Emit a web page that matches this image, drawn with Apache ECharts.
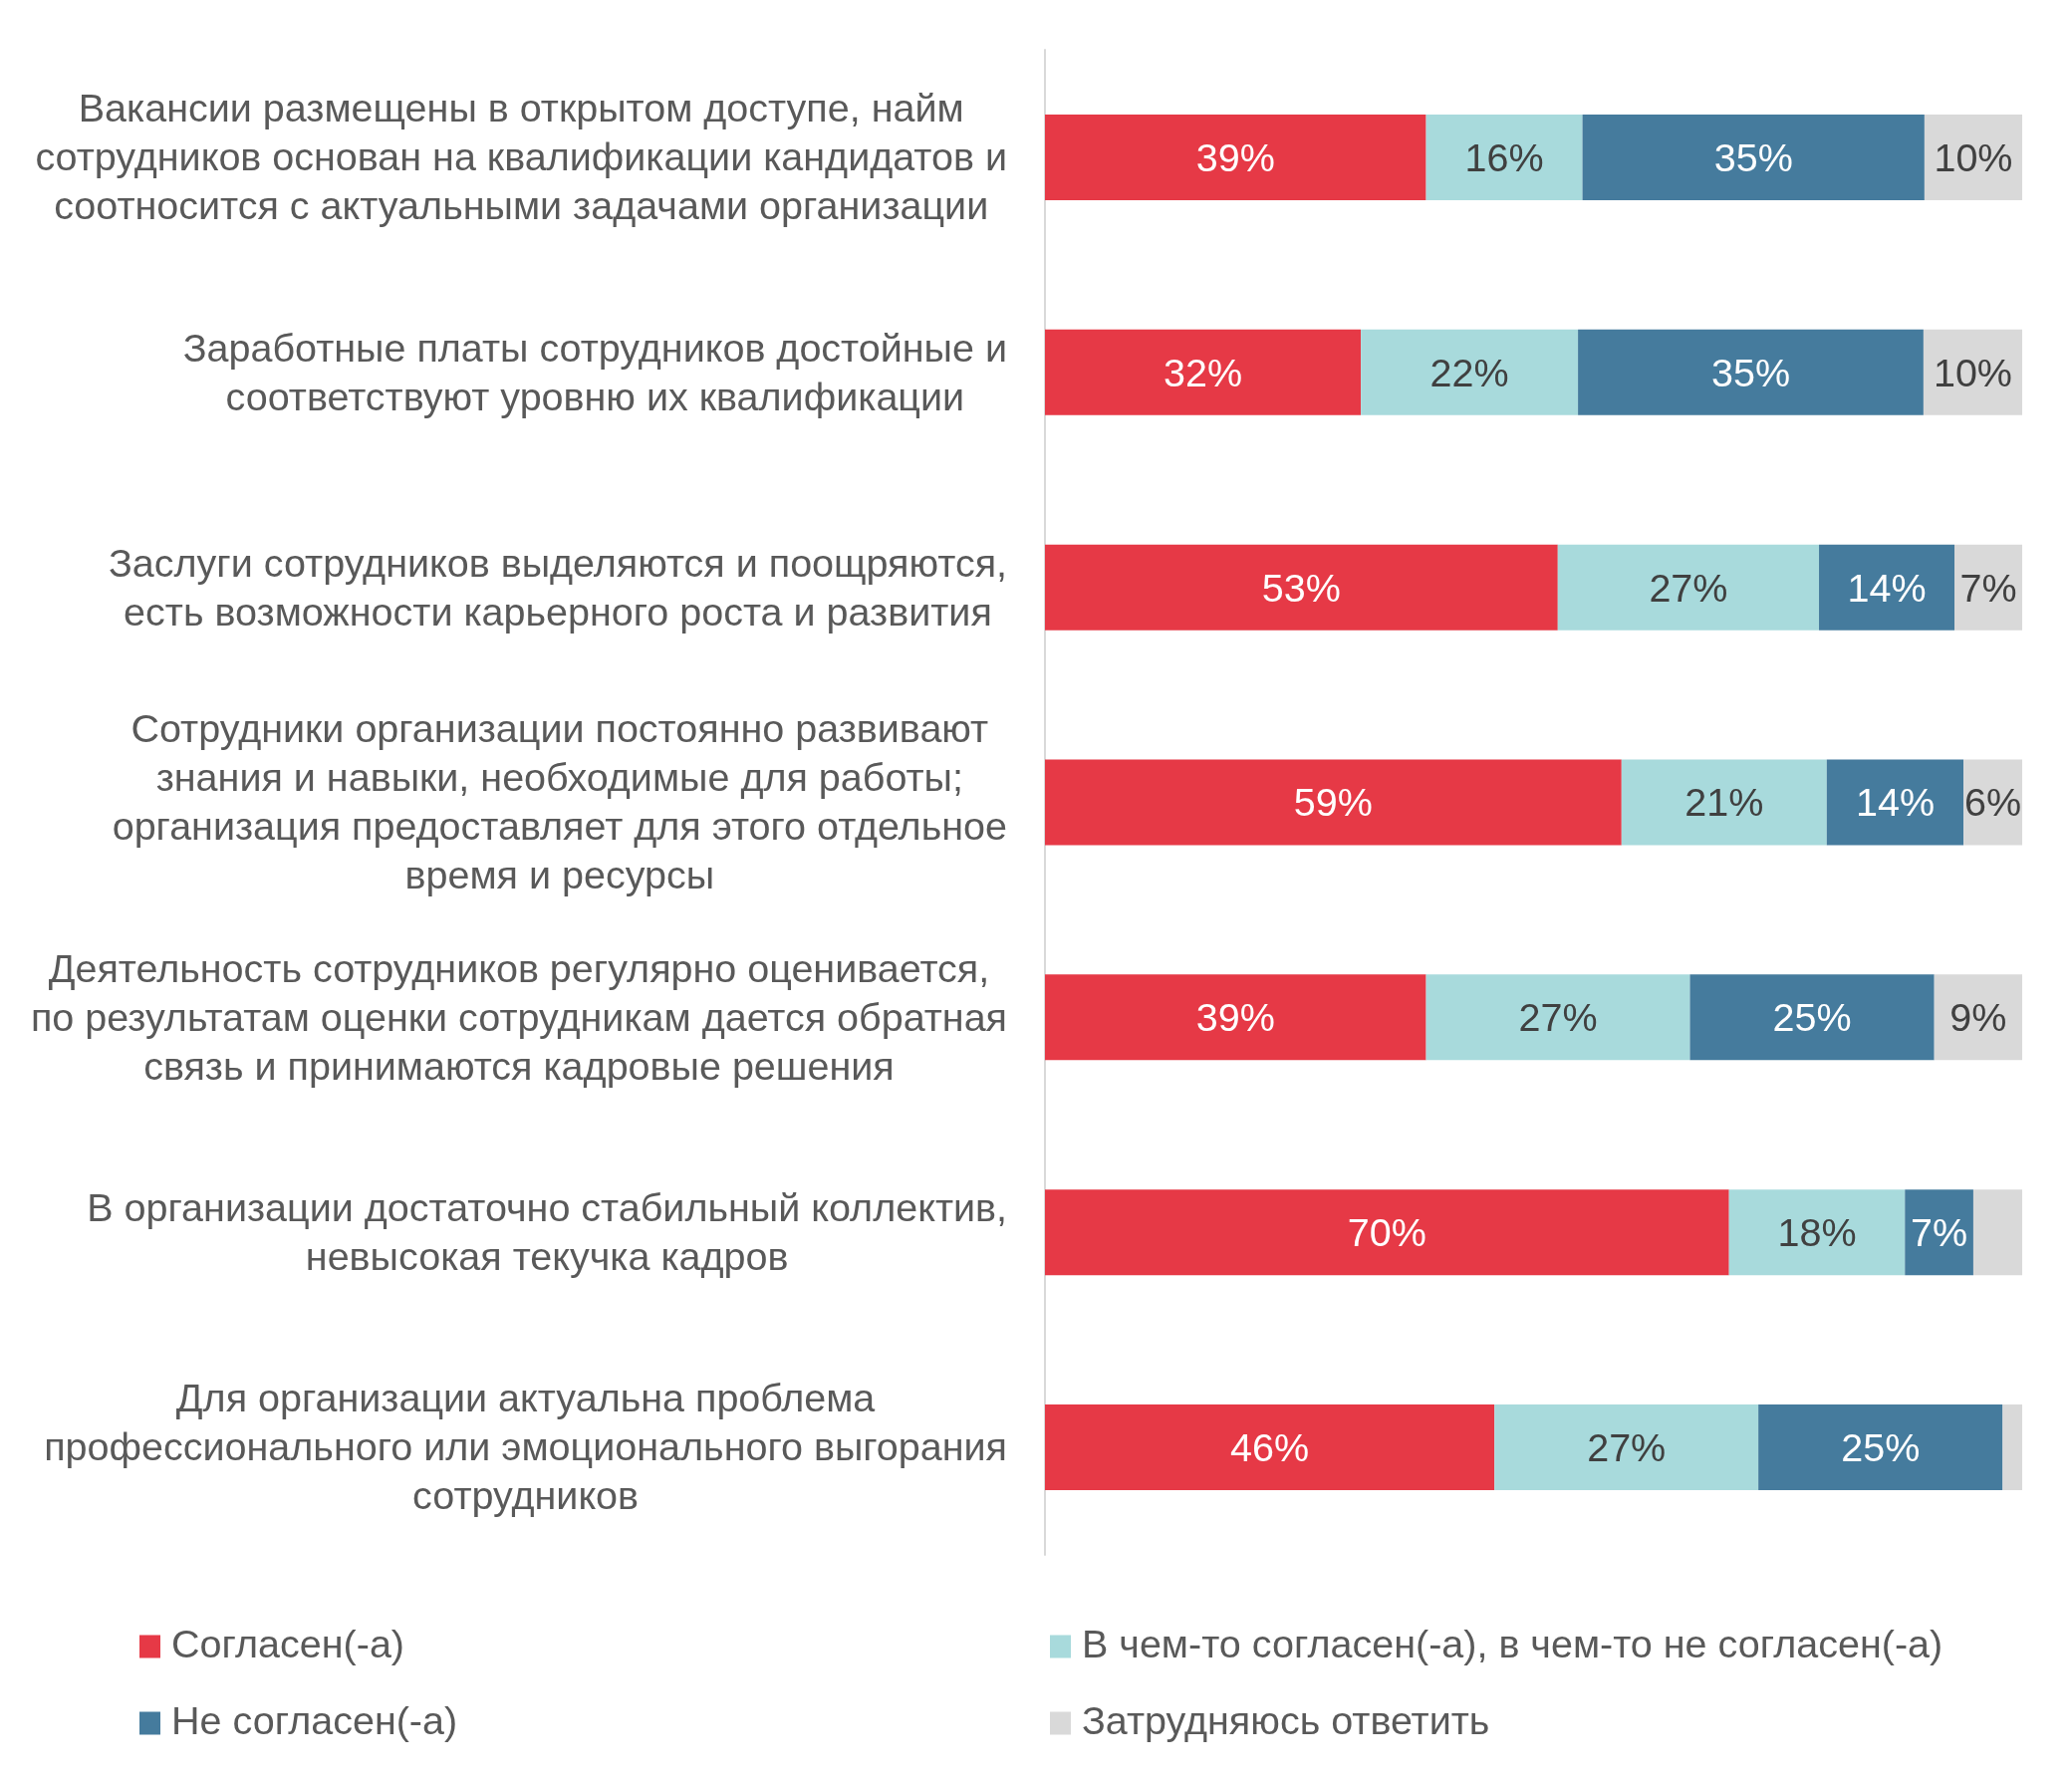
<!DOCTYPE html>
<html>
<head>
<meta charset="utf-8">
<script src="https://cdn.jsdelivr.net/npm/echarts@6/dist/echarts.min.js"></script>
<style>
html,body{margin:0;padding:0;background:#fff;}
#c{width:2080px;height:1787px;}
</style>
</head>
<body>
<div id="c"></div>
<script>
const categories = [
  "Вакансии размещены в открытом доступе, найм\nсотрудников основан на квалификации кандидатов и\nсоотносится с актуальными задачами организации",
  "Заработные платы сотрудников достойные и\nсоответствуют уровню их квалификации",
  "Заслуги сотрудников выделяются и поощряются,\nесть возможности карьерного роста и развития",
  "Сотрудники организации постоянно развивают\nзнания и навыки, необходимые для работы;\nорганизация предоставляет для этого отдельное\nвремя и ресурсы",
  "Деятельность сотрудников регулярно оценивается,\nпо результатам оценки сотрудникам дается обратная\nсвязь и принимаются кадровые решения",
  "В организации достаточно стабильный коллектив,\nневысокая текучка кадров",
  "Для организации актуальна проблема\nпрофессионального или эмоционального выгорания\nсотрудников"
];
const seriesNames = [
  "Согласен(-а)",
  "В чем-то согласен(-а), в чем-то не согласен(-а)",
  "Не согласен(-а)",
  "Затрудняюсь ответить"
];
const agree    = [39, 32, 53, 59, 39, 70, 46];
const partly   = [16, 22, 27, 21, 27, 18, 27];
const disagree = [35, 35, 14, 14, 25, 7, 25];
const unsure   = [10, 10, 7, 6, 9, 5, 2];

const colors = ["#E63946", "#A8DADC", "#457B9D", "#D9D9D9"];
const labelColors = ["#ffffff", "#404040", "#ffffff", "#404040"];
const FONT = "'Liberation Sans', Arial, sans-serif";

const all = [agree, partly, disagree, unsure];
const totals = categories.map((_, i) => all.reduce((s, a) => s + a[i], 0));

const series = all.map((arr, si) => ({
  name: seriesNames[si],
  type: 'bar',
  stack: 'total',
  barWidth: 86,
  itemStyle: { color: colors[si] },
  label: {
    show: true,
    position: 'inside',
    offset: [0, 3],
    color: labelColors[si],
    fontSize: 39.5,
    fontFamily: FONT,
    formatter: p => (p.data.raw > 5 ? p.data.raw + '%' : '')
  },
  data: arr.map((v, i) => ({ value: v / totals[i] * 100, raw: v }))
}));

const legendText = { fontSize: 39.5, lineHeight: 46, color: '#595959', fontFamily: FONT, padding: [0,0,0,6] };

const chart = echarts.init(document.getElementById('c'));
chart.setOption({
  animation: false,
  backgroundColor: '#ffffff',
  grid: { left: 1049, right: 50, top: 50, bottom: 226, containLabel: false },
  xAxis: { type: 'value', min: 0, max: 100, show: false },
  yAxis: {
    type: 'category',
    inverse: true,
    data: categories,
    axisLine: { show: true, lineStyle: { color: '#D9D9D9', width: 2 } },
    axisTick: { show: false },
    splitLine: { show: false },
    axisLabel: {
      margin: 38,
      align: 'right',
      padding: [5, 0, 0, 0],
      formatter: v => v.split('\n').map(l => '{c|' + l + '}').join('\n'),
      rich: {
        c: { align: 'center', fontSize: 39.5, lineHeight: 49, color: '#595959', fontFamily: FONT }
      }
    }
  },
  legend: [
    {
      data: [seriesNames[0], seriesNames[2]],
      orient: 'vertical',
      left: 140, top: 1630, padding: 0,
      icon: 'rect',
      itemWidth: 21, itemHeight: 23, itemGap: 31,
      selectedMode: false,
      textStyle: legendText
    },
    {
      data: [seriesNames[1], seriesNames[3]],
      orient: 'vertical',
      left: 1054, top: 1630, padding: 0,
      icon: 'rect',
      itemWidth: 21, itemHeight: 23, itemGap: 31,
      selectedMode: false,
      textStyle: legendText
    }
  ],
  series: series
});
</script>
</body>
</html>
